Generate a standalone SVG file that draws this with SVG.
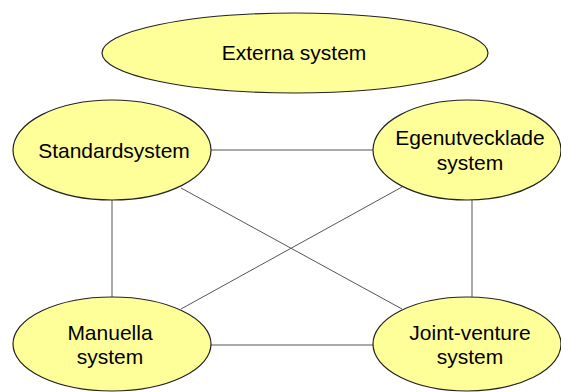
<svg xmlns="http://www.w3.org/2000/svg" width="561" height="392" viewBox="0 0 561 392">
<style>
.node ellipse{fill:#FFFF99;stroke:#222;stroke-width:1.2}
.node text{font-family:"Liberation Sans",Arial,sans-serif;font-size:21px;fill:#000;text-anchor:middle}
.conn line{stroke:#555;stroke-width:1}
</style>
<rect width="561" height="392" fill="#fff"/>
<g id="connectors" class="conn">
<line x1="211" y1="150" x2="373" y2="150"/>
<line x1="210" y1="345" x2="373" y2="345"/>
<line x1="112" y1="200" x2="112" y2="297"/>
<line x1="472" y1="200" x2="472" y2="297"/>
<line x1="181" y1="188" x2="402" y2="309"/>
<line x1="402" y1="187" x2="181" y2="309"/>
</g>
<g id="externa" class="node">
<ellipse cx="295" cy="53" rx="193" ry="40"/>
<text x="294" y="60">Externa system</text>
</g>
<g id="standard" class="node">
<ellipse cx="112" cy="150" rx="99" ry="50"/>
<text x="114" y="158">Standardsystem</text>
</g>
<g id="egen" class="node">
<ellipse cx="467" cy="150" rx="94" ry="50"/>
<text x="470" y="145">Egenutvecklade</text>
<text x="470" y="170">system</text>
</g>
<g id="manuella" class="node">
<ellipse cx="112" cy="344" rx="99" ry="47"/>
<text x="110" y="340">Manuella</text>
<text x="110" y="364">system</text>
</g>
<g id="joint" class="node">
<ellipse cx="467" cy="344" rx="94" ry="47"/>
<text x="470" y="340">Joint-venture</text>
<text x="470" y="364">system</text>
</g>
</svg>
